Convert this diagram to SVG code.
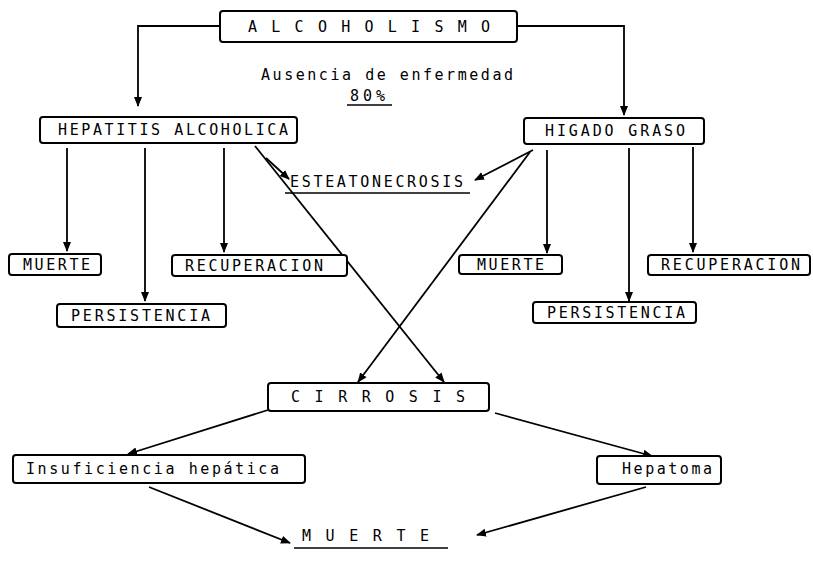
<svg xmlns="http://www.w3.org/2000/svg" width="813" height="580" viewBox="0 0 813 580">
<defs>
<style>
.box{fill:#fff;stroke:#000;stroke-width:2}
.ln{fill:none;stroke:#000;stroke-width:1.8}
.ul{stroke:#000;stroke-width:1.6}
.t{font-family:"DejaVu Sans Mono","Liberation Mono",monospace;font-size:15px;fill:#000}
</style>
<marker id="ah" viewBox="0 0 10 10" refX="9" refY="5" markerWidth="10" markerHeight="10" markerUnits="userSpaceOnUse" orient="auto">
<path d="M0,1 L10,5 L0,9 Z" fill="#000"/>
</marker>
</defs>
<rect width="813" height="580" fill="#fff"/>
<g id="connectors">
<path class="ln" d="M220,26 H138 V106" marker-end="url(#ah)"/>
<path class="ln" d="M517,26 H624 V115" marker-end="url(#ah)"/>
<path class="ln" d="M67,148 V251" marker-end="url(#ah)"/>
<path class="ln" d="M145,148 V301" marker-end="url(#ah)"/>
<path class="ln" d="M224,148 V252" marker-end="url(#ah)"/>
<path class="ln" d="M547,150 V253" marker-end="url(#ah)"/>
<path class="ln" d="M629,148 V301" marker-end="url(#ah)"/>
<path class="ln" d="M693,147 V252" marker-end="url(#ah)"/>
<path class="ln" d="M255,146 L444,382" marker-end="url(#ah)"/>
<path class="ln" d="M266,158 L289,179" marker-end="url(#ah)"/>
<path class="ln" d="M530,152 L358,382" marker-end="url(#ah)"/>
<path class="ln" d="M533,150 L475,180" marker-end="url(#ah)"/>
<path class="ln" d="M268,410 L128,454" marker-end="url(#ah)"/>
<path class="ln" d="M495,413 L652,456" marker-end="url(#ah)"/>
<path class="ln" d="M149,487 L290,543" marker-end="url(#ah)"/>
<path class="ln" d="M646,487 L477,535" marker-end="url(#ah)"/>
</g>
<g id="alcoholismo">
<rect class="box" x="220" y="11" width="297" height="31" rx="3"/>
<text class="t" x="248" y="32" textLength="242" lengthAdjust="spacing">A L C O H O L I S M O</text>
</g>
<g id="ausencia">
<text class="t" x="261" y="80" textLength="252" lengthAdjust="spacing">Ausencia de enfermedad</text>
<text class="t" x="350" y="101" textLength="35" lengthAdjust="spacing">80%</text>
<line class="ul" x1="347" y1="105" x2="392" y2="105"/>
</g>
<g id="hepatitis">
<rect class="box" x="40" y="117" width="257" height="26" rx="3"/>
<text class="t" x="58" y="135" textLength="230" lengthAdjust="spacing">HEPATITIS ALCOHOLICA</text>
</g>
<g id="higado">
<rect class="box" x="524" y="118" width="180" height="26" rx="3"/>
<text class="t" x="545" y="136" textLength="140" lengthAdjust="spacing">HIGADO GRASO</text>
</g>
<g id="esteatonecrosis">
<text class="t" x="290" y="187" textLength="173" lengthAdjust="spacing">ESTEATONECROSIS</text>
<line class="ul" x1="285" y1="193" x2="470" y2="193"/>
</g>
<g id="muerte-l">
<rect class="box" x="9" y="254" width="92" height="21" rx="3"/>
<text class="t" x="23" y="270" textLength="67" lengthAdjust="spacing">MUERTE</text>
</g>
<g id="recuperacion-l">
<rect class="box" x="172" y="255" width="175" height="21" rx="3"/>
<text class="t" x="185" y="271" textLength="138" lengthAdjust="spacing">RECUPERACION</text>
</g>
<g id="persistencia-l">
<rect class="box" x="57" y="304" width="169" height="23" rx="3"/>
<text class="t" x="71" y="321" textLength="139" lengthAdjust="spacing">PERSISTENCIA</text>
</g>
<g id="muerte-r">
<rect class="box" x="459" y="255" width="103" height="19" rx="3"/>
<text class="t" x="477" y="270" textLength="67" lengthAdjust="spacing">MUERTE</text>
</g>
<g id="persistencia-r">
<rect class="box" x="533" y="302" width="163" height="21" rx="3"/>
<text class="t" x="547" y="318" textLength="138" lengthAdjust="spacing">PERSISTENCIA</text>
</g>
<g id="recuperacion-r">
<rect class="box" x="648" y="255" width="162" height="20" rx="3"/>
<text class="t" x="661" y="270" textLength="139" lengthAdjust="spacing">RECUPERACION</text>
</g>
<g id="cirrosis">
<rect class="box" x="268" y="383" width="221" height="28" rx="3"/>
<text class="t" x="291" y="402" textLength="174" lengthAdjust="spacing">C I R R O S I S</text>
</g>
<g id="insuficiencia">
<rect class="box" x="13" y="455" width="292" height="28" rx="3"/>
<text class="t" x="26" y="474" textLength="253" lengthAdjust="spacing">Insuficiencia hepática</text>
</g>
<g id="hepatoma">
<rect class="box" x="597" y="456" width="124" height="28" rx="3"/>
<text class="t" x="622" y="474" textLength="90" lengthAdjust="spacing">Hepatoma</text>
</g>
<g id="muerte-final">
<text class="t" x="302" y="541" textLength="127" lengthAdjust="spacing">M U E R T E</text>
<line class="ul" x1="294" y1="548" x2="448" y2="548"/>
</g>
</svg>
